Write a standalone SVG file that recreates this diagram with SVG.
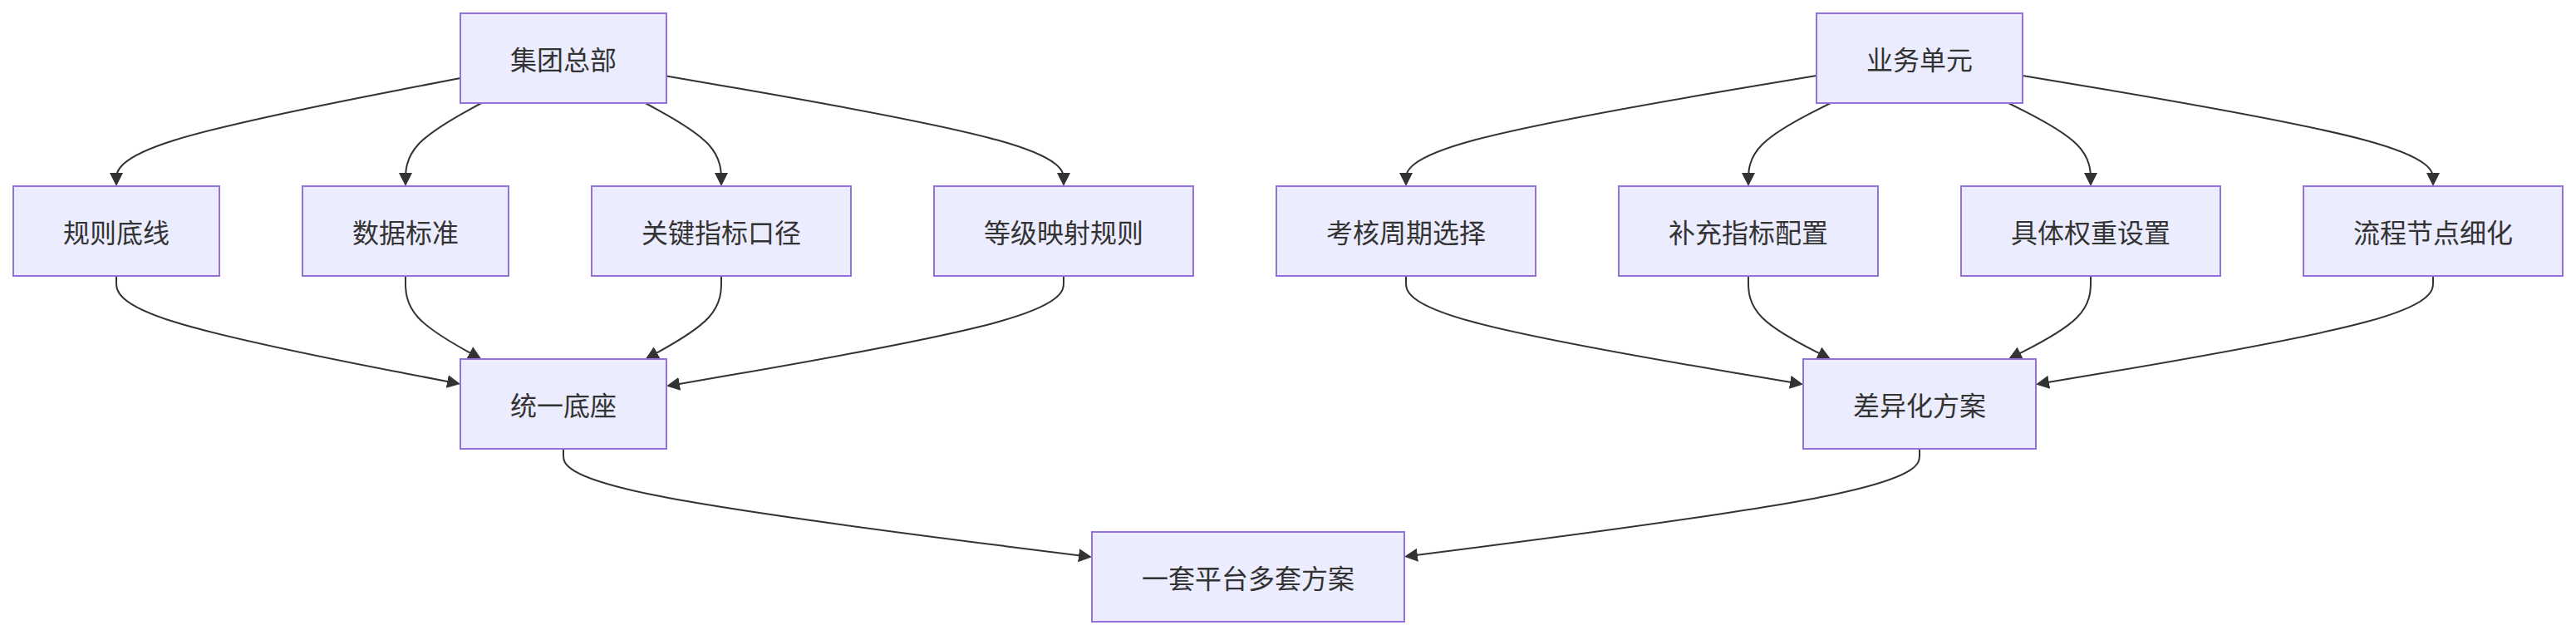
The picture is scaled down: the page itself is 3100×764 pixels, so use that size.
<svg xmlns="http://www.w3.org/2000/svg" width="3100" height="764" viewBox="0 0 3100 764">
<style>
.node rect{fill:#ECECFF;stroke:#9370DB;stroke-width:2}
.node text{font-family:"Noto Sans CJK SC","Noto Sans",sans-serif;font-size:32px;fill:#333;text-anchor:middle;dominant-baseline:central}
.edge{fill:none;stroke:#333;stroke-width:2}
</style>
<defs>
<marker id="arrow" viewBox="0 0 10 10" refX="7.5" refY="5" markerWidth="16" markerHeight="16" markerUnits="userSpaceOnUse" orient="auto">
<path d="M0,0 L10,5 L0,10 z" fill="#333"/>
</marker>
</defs>
<rect width="3100" height="764" fill="#ffffff"/>
<g id="connectors">
<path class="edge" marker-end="url(#arrow)" d="M554,94 L485,107.33 C416,120.67 278,147.33 209,169 C140,190.67 140,207.33 140,215.67 L140,220"/>
<path class="edge" marker-end="url(#arrow)" d="M579.3,124 L564.1,132.33 C548.9,140.67 518.4,157.33 503.2,174 C488,190.67 488,207.33 488,215.67 L488,220"/>
<path class="edge" marker-end="url(#arrow)" d="M776.7,124 L791.9,132.33 C807.1,140.67 837.6,157.33 852.8,174 C868,190.67 868,207.33 868,215.67 L868,220"/>
<path class="edge" marker-end="url(#arrow)" d="M802,91.4 L881.7,105.17 C961.3,118.93 1120.7,146.47 1200.3,168.57 C1280,190.67 1280,207.33 1280,215.67 L1280,220"/>
<path class="edge" marker-end="url(#arrow)" d="M2186,90.9 L2103.7,104.75 C2021.3,118.6 1856.7,146.3 1774.3,168.48 C1692,190.67 1692,207.33 1692,215.67 L1692,220"/>
<path class="edge" marker-end="url(#arrow)" d="M2203,124 L2186.5,132.33 C2170,140.67 2137,157.33 2120.5,174 C2104,190.67 2104,207.33 2104,215.67 L2104,220"/>
<path class="edge" marker-end="url(#arrow)" d="M2417,124 L2433.5,132.33 C2450,140.67 2483,157.33 2499.5,174 C2516,190.67 2516,207.33 2516,215.67 L2516,220"/>
<path class="edge" marker-end="url(#arrow)" d="M2434,90.9 L2516.3,104.75 C2598.7,118.6 2763.3,146.3 2845.7,168.48 C2928,190.67 2928,207.33 2928,215.67 L2928,220"/>
<path class="edge" marker-end="url(#arrow)" d="M140,332 L140,340.33 C140,348.67 140,365.33 209,387 C278,408.67 416,435.33 485,448.67 L550.07,461.27"/>
<path class="edge" marker-end="url(#arrow)" d="M488,332 L488,340.33 C488,348.67 488,365.33 503.2,382 C518.45,398.67 548.9,415.33 564.1,423.67 L575.84,430.08"/>
<path class="edge" marker-end="url(#arrow)" d="M868,332 L868,340.33 C868,348.67 868,365.33 852.8,382 C837.55,398.67 807.1,415.33 791.9,423.67 L780.16,430.08"/>
<path class="edge" marker-end="url(#arrow)" d="M1280,332 L1280,340.33 C1280,348.67 1280,365.33 1200.3,387.43 C1120.7,409.53 961.3,437.05 881.7,450.82 L805.94,463.9"/>
<path class="edge" marker-end="url(#arrow)" d="M1692,332 L1692,340.33 C1692,348.67 1692,365.33 1771.7,387.07 C1851.3,408.81 2010.7,435.63 2090.3,449.03 L2166.06,461.78"/>
<path class="edge" marker-end="url(#arrow)" d="M2104,332 L2104,340.33 C2104,348.67 2104,365.33 2120.5,382 C2137,398.67 2170,415.33 2186.5,423.67 L2199.47,430.2"/>
<path class="edge" marker-end="url(#arrow)" d="M2516,332 L2516,340.33 C2516,348.67 2516,365.33 2499.5,382 C2483,398.67 2450,415.33 2433.5,423.67 L2420.53,430.2"/>
<path class="edge" marker-end="url(#arrow)" d="M2928,332 L2928,340.33 C2928,348.67 2928,365.33 2848.3,387.07 C2768.7,408.81 2609.3,435.63 2529.7,449.03 L2453.94,461.78"/>
<path class="edge" marker-end="url(#arrow)" d="M678,540 L678,548.33 C678,556.67 678,573.33 784,595.05 C890,616.76 1102,643.51 1208,656.89 L1310.03,669.77"/>
<path class="edge" marker-end="url(#arrow)" d="M2310,540 L2310,548.33 C2310,556.67 2310,573.33 2206.7,594.97 C2103.3,616.6 1896.7,643.2 1793.3,656.5 L1693.97,669.29"/>
</g>
<g id="n-hq" class="node"><rect x="554" y="16" width="248" height="108"/><text x="678" y="70">集团总部</text></g>
<g id="n-bu" class="node"><rect x="2186" y="16" width="248" height="108"/><text x="2310" y="70">业务单元</text></g>
<g id="n-rule" class="node"><rect x="16" y="224" width="248" height="108"/><text x="140" y="278">规则底线</text></g>
<g id="n-data" class="node"><rect x="364" y="224" width="248" height="108"/><text x="488" y="278">数据标准</text></g>
<g id="n-kpi" class="node"><rect x="712" y="224" width="312" height="108"/><text x="868" y="278">关键指标口径</text></g>
<g id="n-grade" class="node"><rect x="1124" y="224" width="312" height="108"/><text x="1280" y="278">等级映射规则</text></g>
<g id="n-cycle" class="node"><rect x="1536" y="224" width="312" height="108"/><text x="1692" y="278">考核周期选择</text></g>
<g id="n-extra" class="node"><rect x="1948" y="224" width="312" height="108"/><text x="2104" y="278">补充指标配置</text></g>
<g id="n-weight" class="node"><rect x="2360" y="224" width="312" height="108"/><text x="2516" y="278">具体权重设置</text></g>
<g id="n-flow" class="node"><rect x="2772" y="224" width="312" height="108"/><text x="2928" y="278">流程节点细化</text></g>
<g id="n-base" class="node"><rect x="554" y="432" width="248" height="108"/><text x="678" y="486">统一底座</text></g>
<g id="n-diff" class="node"><rect x="2170" y="432" width="280" height="108"/><text x="2310" y="486">差异化方案</text></g>
<g id="n-platform" class="node"><rect x="1314" y="640" width="376" height="108"/><text x="1502" y="694">一套平台多套方案</text></g>
</svg>
